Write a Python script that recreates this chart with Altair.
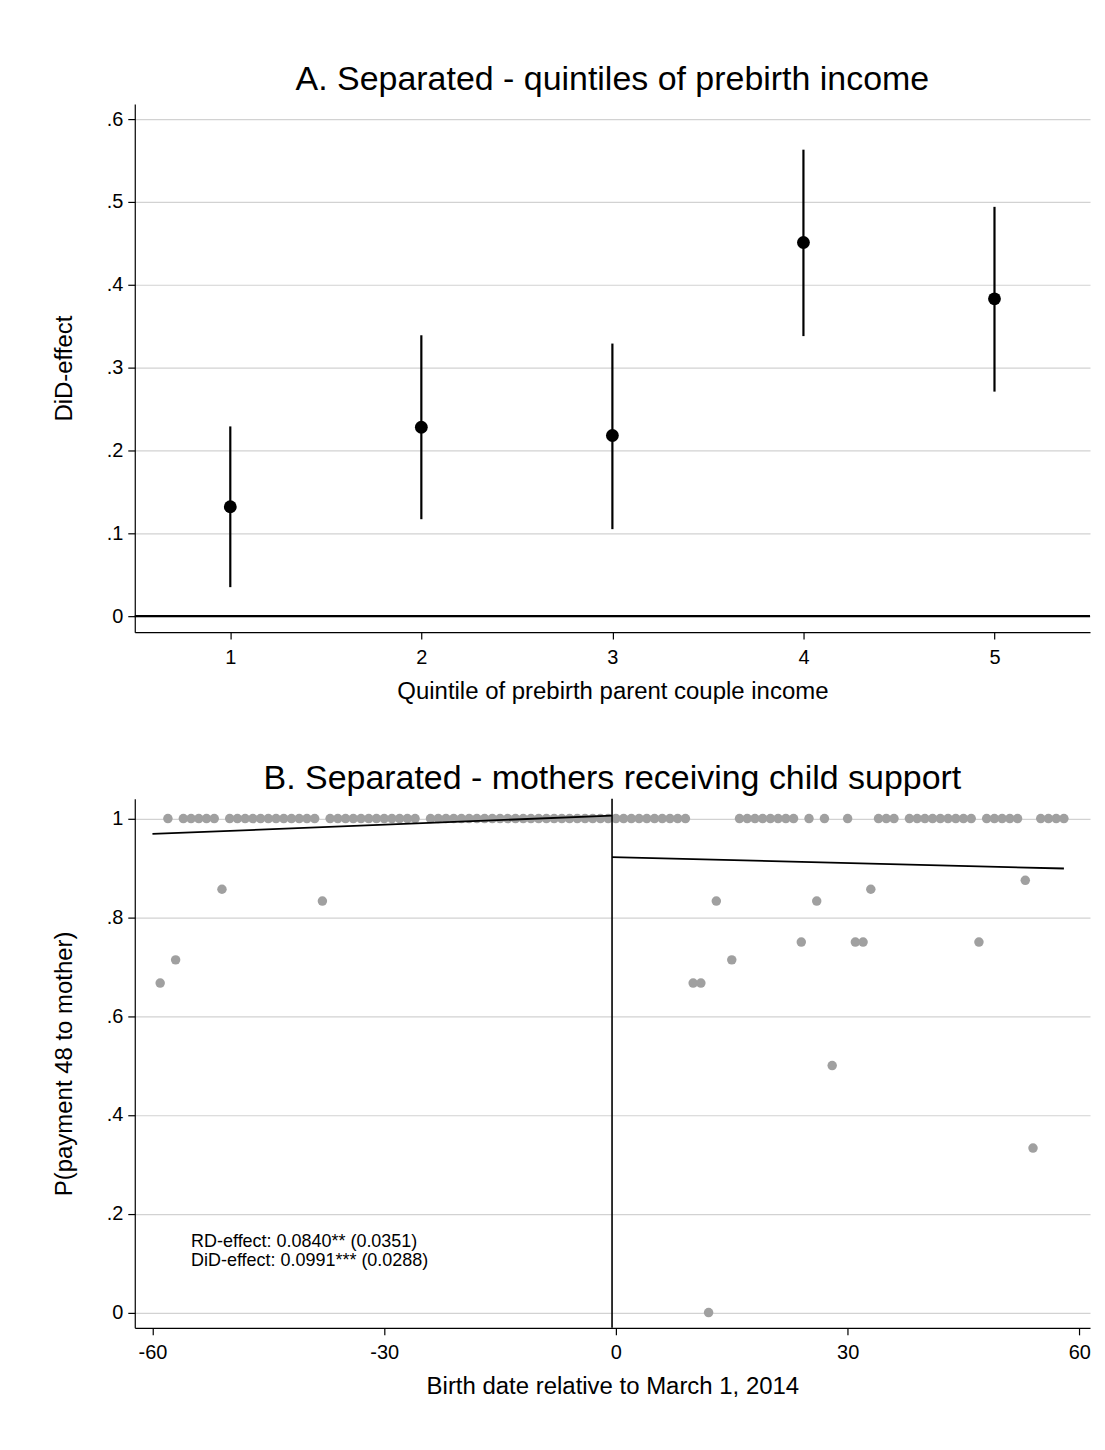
import altair as alt
import pandas as pd

FONT = "Liberation Sans"

# ---------------- Panel A data ----------------
quintile = [1, 2, 3, 4, 5]
did_effect = [0.132, 0.228, 0.218, 0.451, 0.383]
ci_low = [0.035, 0.117, 0.105, 0.338, 0.271]
ci_high = [0.229, 0.339, 0.329, 0.563, 0.494]
a_xticks = [1, 2, 3, 4, 5]
a_yticks = [0, 0.1, 0.2, 0.3, 0.4, 0.5, 0.6]
zero_line = [0]

# ---------------- Panel B data ----------------
days_left = [-59, -58, -57, -56, -55, -54, -53, -52, -51, -50, -49, -48, -47, -46,
             -45, -44, -43, -42, -41, -40, -39, -38, -37, -36, -35, -34, -33, -32,
             -31, -30, -29, -28, -27, -26, -24, -23, -22, -21, -20, -19, -18, -17,
             -16, -15, -14, -13, -12, -11, -10, -9, -8, -7, -6, -5, -4, -3, -2, -1]
share_left = [0.667, 1, 0.714, 1, 1, 1, 1, 1, 0.857, 1, 1, 1, 1, 1,
              1, 1, 1, 1, 1, 1, 1, 0.833, 1, 1, 1, 1, 1, 1,
              1, 1, 1, 1, 1, 1, 1, 1, 1, 1, 1, 1, 1, 1,
              1, 1, 1, 1, 1, 1, 1, 1, 1, 1, 1, 1, 1, 1, 1, 1]
days_right = [0, 1, 2, 3, 4, 5, 6, 7, 8, 9, 10, 11, 12, 13, 15, 16, 17, 18, 19, 20,
              21, 22, 23, 24, 25, 26, 27, 28, 30, 31, 32, 33, 34, 35, 36, 38, 39, 40,
              41, 42, 43, 44, 45, 46, 47, 48, 49, 50, 51, 52, 53, 54, 55, 56, 57, 58]
share_right = [1, 1, 1, 1, 1, 1, 1, 1, 1, 1, 0.667, 0.667, 0, 0.833, 0.714, 1, 1, 1, 1, 1,
               1, 1, 1, 0.75, 1, 0.833, 1, 0.5, 1, 0.75, 0.75, 0.857, 1, 1, 1, 1, 1, 1,
               1, 1, 1, 1, 1, 1, 0.75, 1, 1, 1, 1, 1, 0.875, 0.333, 1, 1, 1, 1]
fit_left_x = [-60, -0.5]
fit_left_y = [0.969, 1.006]
fit_right_x = [-0.5, 58]
fit_right_y = [0.922, 0.899]
cutoff = [-0.5]
b_xticks = [-60, -30, 0, 30, 60]
b_yticks = [0, 0.2, 0.4, 0.6, 0.8, 1]
notes = ["RD-effect: 0.0840** (0.0351)", "DiD-effect: 0.0991*** (0.0288)"]
note_x = [-55, -55]
note_y = [0.1425, 0.1035]

W = 957
HA = 529
HB = 530
GRID = "#d2d2d2"
YLAB = "datum.value == 0 ? '0' : (datum.value >= 1 ? '1' : '.' + format(datum.value * 10, '.0f'))"
XLAB = "'' + datum.value"

def yaxis(title, values):
    return alt.Axis(values=values, labelExpr=YLAB, title=title, grid=True,
                    gridColor=GRID, gridWidth=1.2, tickSize=7, labelPadding=5,
                    titlePadding=30, labelFontSize=20, titleFontSize=24,
                    labelAngle=0, domainColor="black", tickColor="black",
                    labelColor="black", titleColor="black", labelFont=FONT,
                    titleFont=FONT, titleFontWeight="normal", domainWidth=1.2,
                    tickWidth=1.2)

def xaxis(title, values):
    return alt.Axis(values=values, labelExpr=XLAB, title=title, grid=False, tickSize=7,
                    labelPadding=8, titlePadding=12, labelFontSize=20,
                    titleFontSize=24, labelAngle=0, domainColor="black",
                    tickColor="black", labelColor="black", titleColor="black",
                    labelFont=FONT, titleFont=FONT, titleFontWeight="normal",
                    domainWidth=1.2, tickWidth=1.2, labelFlush=False)

# ---------------- Panel A ----------------
dfa = pd.DataFrame({"q": quintile, "eff": did_effect, "lo": ci_low, "hi": ci_high})
xA = alt.X("q:Q", scale=alt.Scale(domain=[0.5, 5.5], nice=False, zero=False),
           axis=xaxis("Quintile of prebirth parent couple income", a_xticks))
yA = alt.Y("eff:Q", scale=alt.Scale(domain=[-0.0193, 0.618], nice=False, zero=False),
           axis=yaxis("DiD-effect", a_yticks))

zero_rule = alt.Chart(pd.DataFrame({"z": zero_line})).mark_rule(
    color="black", strokeWidth=2.2).encode(y=alt.Y("z:Q"))
bars = alt.Chart(dfa).mark_rule(color="black", strokeWidth=2.2).encode(
    x=alt.X("q:Q"), y=alt.Y("lo:Q"), y2="hi:Q")
pts = alt.Chart(dfa).mark_circle(color="black", size=165, opacity=1).encode(x=xA, y=yA)

panelA = alt.layer(pts, zero_rule, bars).properties(
    width=W, height=HA,
    title=alt.TitleParams("A. Separated - quintiles of prebirth income", fontSize=34,
                          font=FONT, fontWeight="normal", color="black", offset=7,
                          anchor="middle"))

# ---------------- Panel B ----------------
dfb = pd.DataFrame({"day": days_left + days_right, "share": share_left + share_right})
dff = pd.DataFrame({"x": fit_left_x + fit_right_x, "y": fit_left_y + fit_right_y,
                    "side": ["left", "left", "right", "right"]})
dfn = pd.DataFrame({"x": note_x, "y": note_y, "t": notes})

xB = alt.X("day:Q", scale=alt.Scale(domain=[-62.29, 61.38], nice=False, zero=False),
           axis=xaxis("Birth date relative to March 1, 2014", b_xticks))
yB = alt.Y("share:Q", scale=alt.Scale(domain=[-0.031, 1.04], nice=False, zero=False),
           axis=yaxis("P(payment 48 to mother)", b_yticks))

dots = alt.Chart(dfb).mark_circle(color="#a0a0a0", size=90, opacity=1).encode(x=xB, y=yB)
fits = alt.Chart(dff).mark_line(color="black", strokeWidth=1.8).encode(
    x="x:Q", y="y:Q", detail="side:N")
vline = alt.Chart(pd.DataFrame({"c": cutoff})).mark_rule(
    color="black", strokeWidth=1.6).encode(x="c:Q")
txt = alt.Chart(dfn).mark_text(align="left", baseline="middle", fontSize=18,
                               font=FONT, color="black").encode(
    x="x:Q", y="y:Q", text="t:N")

panelB = alt.layer(dots, fits, vline, txt).properties(
    width=W, height=HB,
    title=alt.TitleParams("B. Separated - mothers receiving child support", fontSize=34,
                          font=FONT, fontWeight="normal", color="black", offset=2,
                          anchor="middle"))

chart = alt.vconcat(panelA, panelB, spacing=59).properties(
    padding={"left": 44, "top": 54, "right": 5, "bottom": 5}
).configure(background="white").configure_view(stroke=None, strokeWidth=0)

chart.save("out.html", embed_options={"renderer": "svg", "actions": False})
